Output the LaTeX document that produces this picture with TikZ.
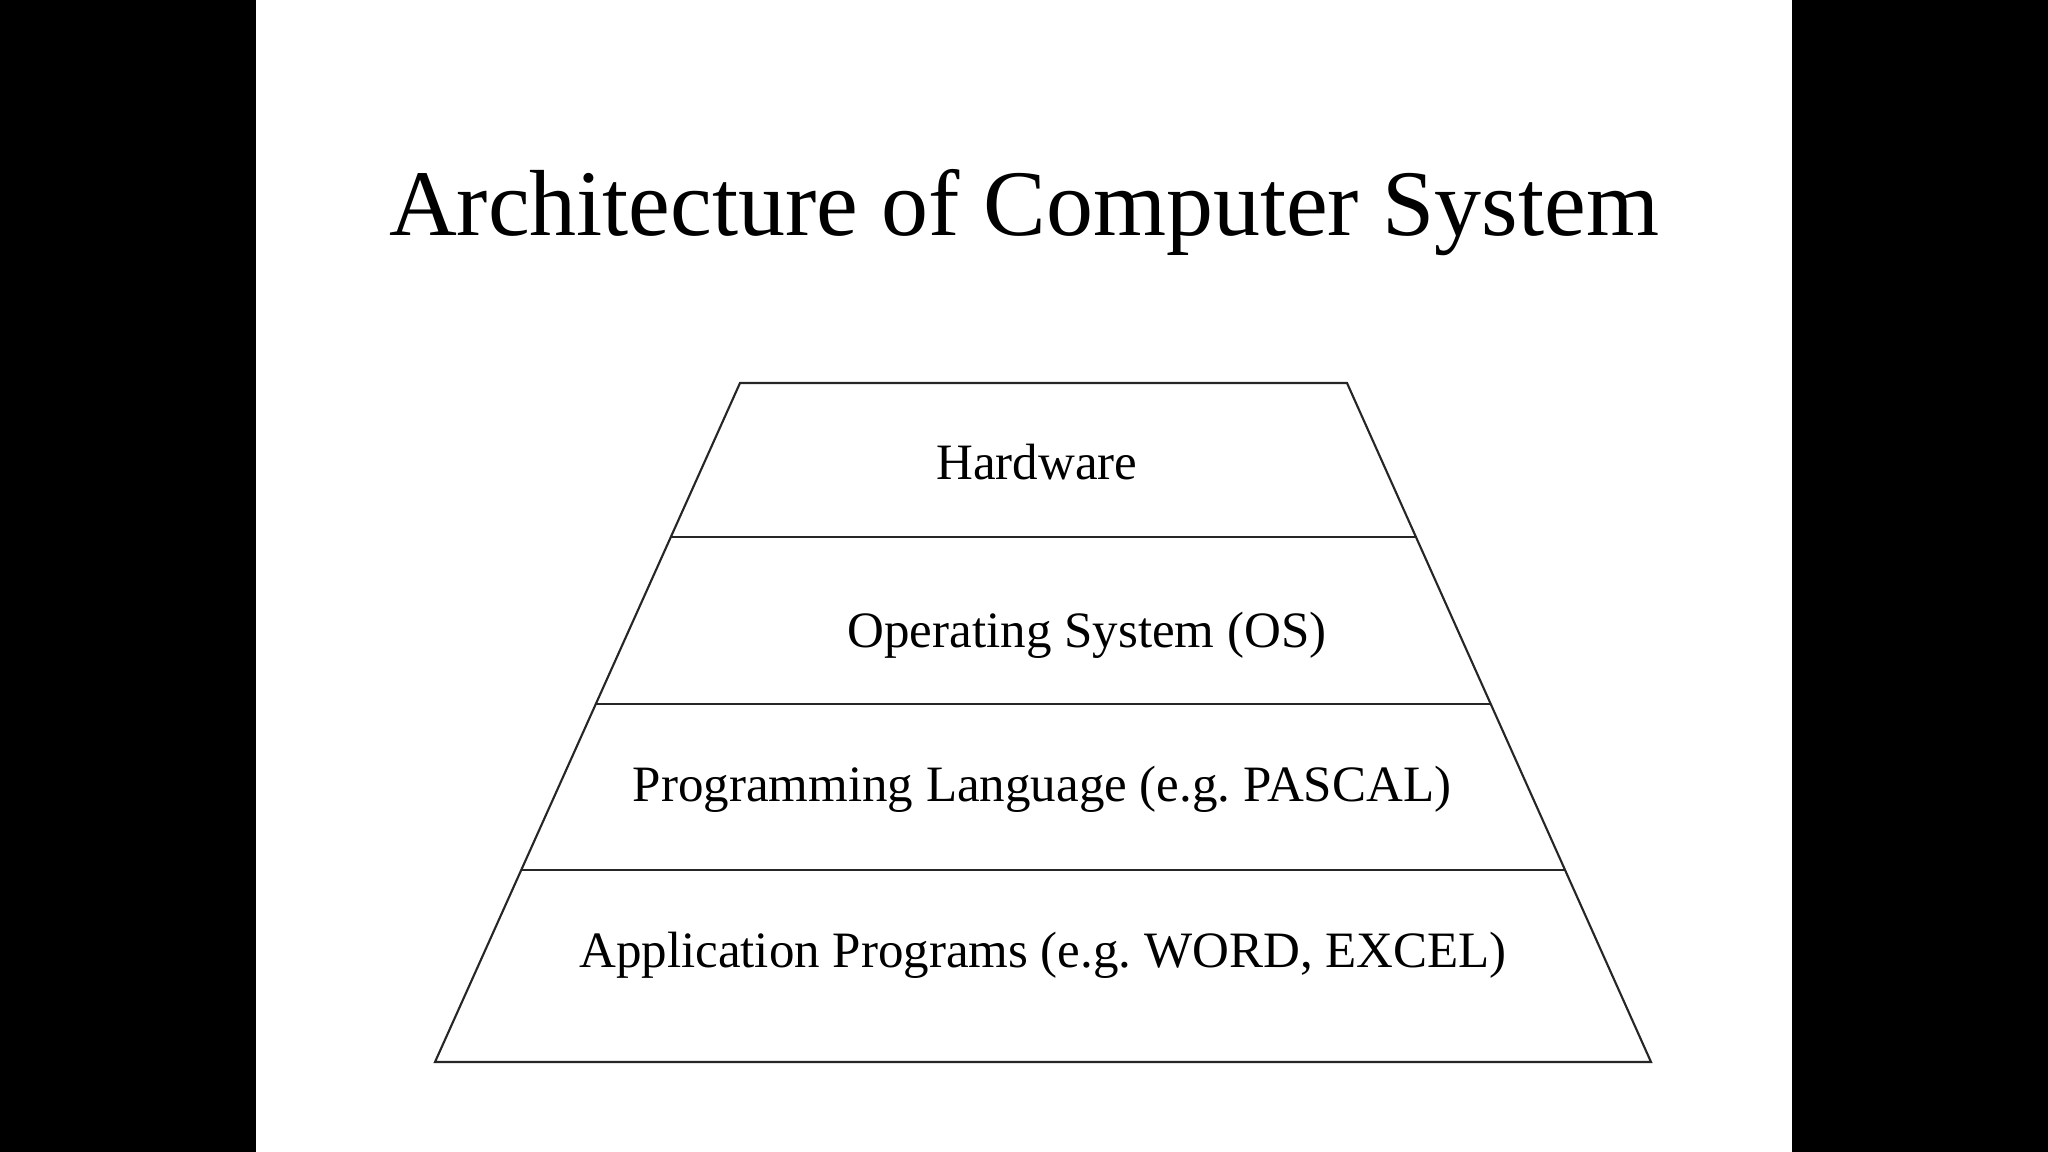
\documentclass[tikz,border=0pt]{standalone}
\usepackage{fontspec}
\setmainfont{Liberation Serif}
\usetikzlibrary{calc}

\begin{document}
\begin{tikzpicture}[x=0.01cm,y=-0.01cm,
  layer/.style={anchor=base,inner sep=0pt,font=\fontsize{14.5}{17}\selectfont\frenchspacing},
  rim/.style={line width=0.6pt,black!85}]
\useasboundingbox (0,0) rectangle (2048,1152);
\fill[white] (0,0) rectangle (2048,1152);
\fill[black] (0,0) rectangle (256,1152);
\fill[black] (1792,0) rectangle (2048,1152);
\node[anchor=base,inner sep=0pt,font=\fontsize{26.7}{32}\selectfont] (title) at (1024,236) {Architecture of Computer System};
% pyramid
\coordinate (tl) at (740,383);
\coordinate (tr) at (1347,383);
\coordinate (br) at (1651,1062);
\coordinate (bl) at (435,1062);
\draw[rim] (tl)--(tr)--(br)--(bl)--cycle;
\foreach \t/\n in {0.2268/a,0.4728/b,0.7172/c}{
  \coordinate (l\n) at ($(tl)!\t!(bl)$);
  \coordinate (r\n) at ($(tr)!\t!(br)$);
  \draw[rim] (l\n)--(r\n);
}
\node[layer] (hw) at (1037,480) {Hardware};
\node[layer] (os) at (1087,647) {Operating System (OS)};
\node[layer] (pl) at (1042,801) {Programming Language (e.g. PASCAL)};
\node[layer] (ap) at (1043,967) {Application Programs (e.g. WORD, EXCEL)};
\end{tikzpicture}
\end{document}
